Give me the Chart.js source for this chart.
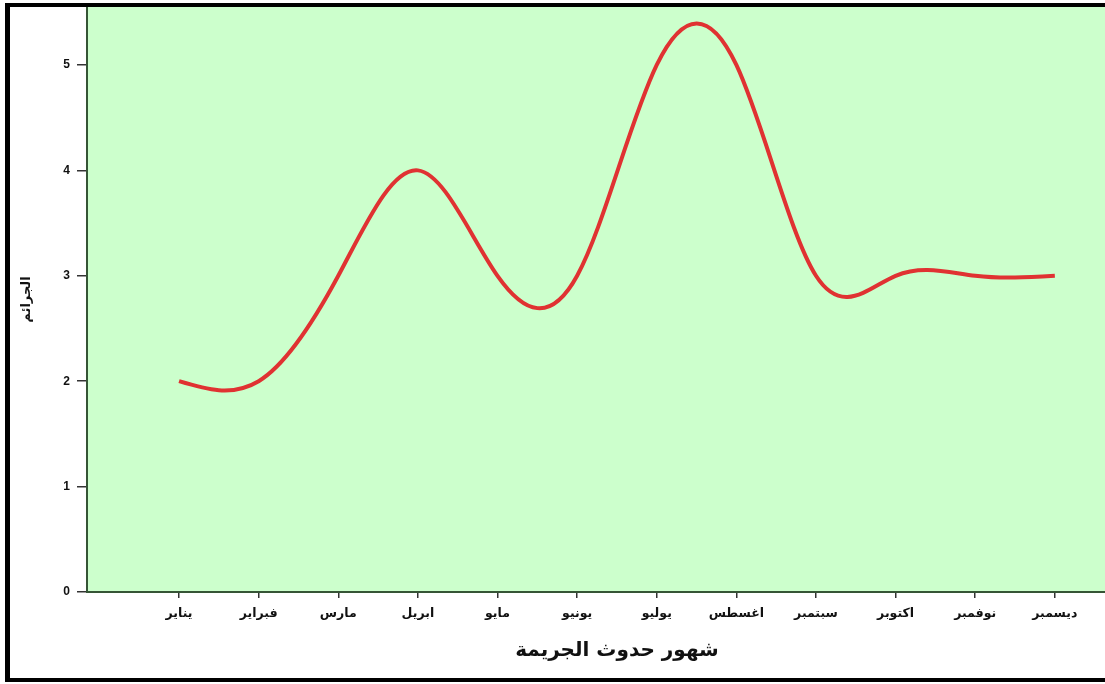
<!DOCTYPE html>
<html>
<head>
<meta charset="utf-8">
<script src="https://cdn.jsdelivr.net/npm/chart.js@4.4.1/dist/chart.umd.min.js"></script>
<style>
  html, body { margin: 0; padding: 0; background: #ffffff; }
  #frame {
    position: absolute; left: 5px; top: 3px;
    width: 1100px; height: 679px; box-sizing: border-box;
    border-left: 5px solid #000; border-top: 4px solid #000; border-bottom: 4px solid #000;
    background: #ffffff;
  }
  #chart { display: block; }
</style>
</head>
<body>
<div id="frame"><canvas id="chart" width="1095" height="671"></canvas></div>
<script>
// Months of the year (x categories)
const months = ['يناير', 'فبراير', 'مارس', 'ابريل', 'مايو', 'يونيو',
                'يوليو', 'اغسطس', 'سبتمبر', 'اكتوبر', 'نوفمبر', 'ديسمبر'];
// Number of crimes per month
const crimes = [2, 2, 3, 4, 3, 3, 5, 5, 3, 3, 3, 3];
// Y-axis tick values
const yTicks = [0, 1, 2, 3, 4, 5];

const xTitle = 'شهور حدوث الجريمة';
const yTitle = 'الجرائم';

const ARABIC_FONT = '"DejaVu Sans", "Liberation Sans", sans-serif';
const NUM_FONT = '"Liberation Sans", Arial, sans-serif';

// Green plot background
const plotBackground = {
  id: 'plotBackground',
  beforeDraw(chart) {
    const { ctx, chartArea: a } = chart;
    ctx.save();
    ctx.fillStyle = '#ccffcc';
    ctx.fillRect(a.left, a.top, a.right - a.left, a.bottom - a.top);
    ctx.restore();
  }
};

// Natural cubic spline through the data points, written into the
// bezier control points the line element already uses.
const naturalSpline = {
  id: 'naturalSpline',
  beforeDatasetDraw(chart, args) {
    const meta = args.meta;
    const pts = meta.data;
    const n = pts.length - 1;
    if (n < 1) return;
    const x = pts.map(p => p.x), y = pts.map(p => p.y);
    const h = [];
    for (let i = 0; i < n; i++) h.push(x[i + 1] - x[i]);
    const M = new Array(n + 1).fill(0);
    const a = [], b = [], c = [], d = [];
    for (let i = 1; i < n; i++) {
      a[i] = h[i - 1]; b[i] = 2 * (h[i - 1] + h[i]); c[i] = h[i];
      d[i] = 6 * ((y[i + 1] - y[i]) / h[i] - (y[i] - y[i - 1]) / h[i - 1]);
    }
    for (let i = 2; i < n; i++) {
      const w = a[i] / b[i - 1];
      b[i] -= w * c[i - 1];
      d[i] -= w * d[i - 1];
    }
    for (let i = n - 1; i >= 1; i--) M[i] = (d[i] - c[i] * M[i + 1]) / b[i];
    for (let i = 0; i < n; i++) {
      const s = (y[i + 1] - y[i]) / h[i];
      const m0 = s - h[i] * (2 * M[i] + M[i + 1]) / 6;
      const m1 = s + h[i] * (M[i] + 2 * M[i + 1]) / 6;
      pts[i].cp2x = x[i] + h[i] / 3;
      pts[i].cp2y = y[i] + m0 * h[i] / 3;
      pts[i + 1].cp1x = x[i + 1] - h[i] / 3;
      pts[i + 1].cp1y = y[i + 1] - m1 * h[i] / 3;
    }
    pts[0].cp1x = x[0]; pts[0].cp1y = y[0];
    pts[n].cp2x = x[n]; pts[n].cp2y = y[n];
    meta.dataset._pointsUpdated = true;
    meta.dataset._path = undefined;
  }
};

// X-axis title, centred under the span of the month ticks
const xAxisTitle = {
  id: 'xAxisTitle',
  afterDraw(chart) {
    const { ctx } = chart;
    const sx = chart.scales.x;
    const cx = (sx.getPixelForValue(0) + sx.getPixelForValue(months.length - 1)) / 2;
    ctx.save();
    ctx.font = 'bold 20px ' + ARABIC_FONT;
    ctx.fillStyle = '#111';
    ctx.textAlign = 'center';
    ctx.textBaseline = 'middle';
    ctx.direction = 'rtl';
    ctx.fillText(xTitle, cx, sx.bottom - 27);
    ctx.restore();
  }
};

const zeroPadding = (scale) => {
  scale.paddingTop = 0; scale.paddingBottom = 0;
  scale.paddingLeft = 0; scale.paddingRight = 0;
};

new Chart(document.getElementById('chart'), {
  type: 'line',
  data: {
    datasets: [{
      data: crimes.map((v, i) => ({ x: i, y: v })),
      borderColor: '#e03232',
      borderWidth: 4,
      tension: 0.4,
      pointRadius: 0,
      pointHoverRadius: 0,
      fill: false
    }]
  },
  options: {
    responsive: false,
    devicePixelRatio: 1,
    animation: false,
    layout: { padding: 0 },
    plugins: { legend: { display: false }, tooltip: { enabled: false } },
    scales: {
      x: {
        type: 'linear',
        min: -1.156,
        max: 11.63,
        afterBuildTicks: (s) => { s.ticks = months.map((m, i) => ({ value: i })); },
        afterFit: (s) => { s.height = 86; zeroPadding(s); },
        ticks: {
          autoSkip: false,
          maxRotation: 0,
          padding: 8,
          color: '#111',
          font: { family: ARABIC_FONT, size: 12.5, weight: 'bold' },
          callback: (v) => months[v]
        },
        grid: { drawOnChartArea: false, drawTicks: true, tickLength: 6, color: '#333', lineWidth: 1.5 },
        border: { display: true, color: '#355535', width: 2 }
      },
      y: {
        min: 0,
        max: 5.55,
        afterBuildTicks: (s) => { s.ticks = yTicks.map(v => ({ value: v })); },
        afterFit: (s) => { s.width = 77; zeroPadding(s); },
        ticks: {
          padding: 7,
          color: '#111',
          font: { family: NUM_FONT, size: 12, weight: 'bold' }
        },
        grid: { drawOnChartArea: false, drawTicks: true, tickLength: 10, color: '#333', lineWidth: 1.5 },
        border: { display: true, color: '#355535', width: 2 },
        title: {
          display: true,
          text: yTitle,
          color: '#111',
          padding: { top: 9, bottom: 0 },
          font: { family: ARABIC_FONT, size: 13, weight: 'bold' }
        }
      }
    }
  },
  plugins: [plotBackground, naturalSpline, xAxisTitle]
});
</script>
</body>
</html>
